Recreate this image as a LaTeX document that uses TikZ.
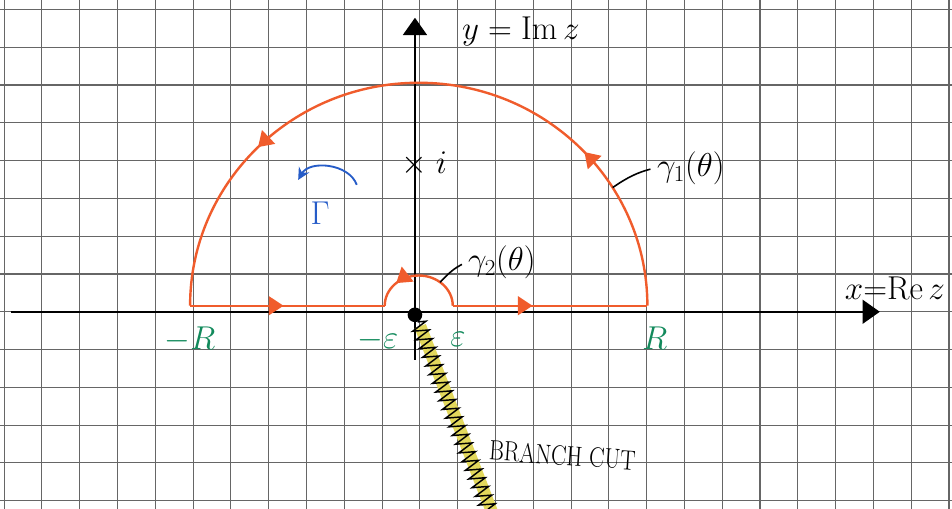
\documentclass[tikz,border=0pt]{standalone}
\usepackage{amsmath,amssymb}
\usepackage{xcolor}
\usepackage{tikz}
\usetikzlibrary{positioning,arrows.meta,decorations.markings,decorations.pathmorphing,calc}
\definecolor{contourorange}{RGB}{240,92,44}
\definecolor{labelgreen}{RGB}{18,138,92}
\definecolor{penblue}{RGB}{38,92,200}
\definecolor{cutyellow}{RGB}{226,216,92}

\begin{document}
\begin{tikzpicture}[
  font=\fontsize{22}{24}\selectfont,
  every node/.style={inner sep=1pt},
  gridline/.style={draw=black!60, line width=0.8pt},
  axis/.style={draw, line width=1.4pt, -{Triangle[length=13pt,width=18pt]}},
  contour/.style={draw=contourorange, line width=1.8pt},
  midarrow/.style={postaction={decorate}, decoration={markings,
    mark=at position #1 with {\arrow{Triangle[length=11pt,width=14pt]}}}},
  endlabel/.style={text=labelgreen, font=\fontsize{24}{26}\selectfont},
  leader/.style={draw, line width=1.2pt, shorten >=4pt}]
\clip (-10.98,-5.21) rectangle (14.21,8.25);
\fill[white] (-10.98,-5.21) rectangle (14.21,8.25);
\draw[gridline, shift={(0.13,0)}] (-12,-6) grid (15,9);

\coordinate (xstart) at (-10.7,0);
\coordinate (xend) at (12.3,0);
\coordinate (ystart) at (0,-1.27);
\coordinate (yend) at (0,7.78);
\draw[axis] (xstart) -- (xend);
\draw[axis] (ystart) -- (yend);

\coordinate (mR) at (-5.95,0.16);
\coordinate (mE) at (-0.8,0.16);
\coordinate (pE) at (1.0,0.16);
\coordinate (pR) at (6.15,0.16);
\draw[contour, midarrow=0.48] (mR) -- (mE);
\draw[contour, midarrow=0.74] (pE) arc[start angle=0, end angle=180, x radius=0.9, y radius=0.8];
\draw[contour, midarrow=0.41] (pE) -- (pR);
\draw[contour, postaction={decorate}, decoration={markings,
    mark=at position 0.24 with {\arrow{Triangle[length=11pt,width=14pt]}},
    mark=at position 0.75 with {\arrow{Triangle[length=11pt,width=14pt]}}}]
  (pR) arc[start angle=0, end angle=180, x radius=6.05, y radius=5.9];

\node[endlabel] (minusR) at (-5.95,-0.74) {$-R$};
\node[endlabel] (minuseps) at (-0.98,-0.74) {$-\varepsilon$};
\node[endlabel] (pluseps) at (1.14,-0.74) {$\varepsilon$};
\node[endlabel] (plusR) at (6.35,-0.69) {$R$};

\node (pole) at (0.24,3.92) {\fontsize{24}{26}\selectfont$\times\;i$};
\node (ylabel) at (2.8,7.41) {\fontsize{29}{31}\selectfont$y = \mathrm{Im}\,z$};
\node (xlabel) at (12.7,0.63) {\fontsize{25}{27}\selectfont$x{=}\mathrm{Re}\,z$};

\coordinate (gonept) at ($(0.1,0.16)+(32:6.05 and 5.9)$);
\coordinate (gtwopt) at ($(0.1,0.16)+(51:0.9 and 0.8)$);
\node (gammaone) at (7.3,3.81) {\fontsize{24}{26}\selectfont$\gamma_1(\theta)$};
\node (gammatwo) at (2.3,1.32) {\fontsize{24}{26}\selectfont$\gamma_2(\theta)$};
\draw[leader] (gonept) to[bend left=10] (gammaone.west);
\draw[leader] (gtwopt) to[bend left=10] (gammatwo.west);

\node[text=penblue] (bigGamma) at (-2.51,2.6) {\fontsize{32}{32}\selectfont$\Gamma$};
\coordinate (turnstart) at (-1.54,3.36);
\coordinate (turnend) at (-3.09,3.49);
\draw[penblue, line width=1.4pt, -{Stealth[length=9pt,width=9pt]}] (turnstart) to[bend right=65] (turnend);

\node[circle, fill, inner sep=0pt, minimum size=11pt] (branchpt) at (0,-0.08) {};
\coordinate (cutend) at (1.98,-5.3);
\draw[cutyellow, line width=9pt] ($(branchpt)+(0.14,-0.3)$) -- ($(cutend)+(0.06,0)$);
\draw[line width=1.1pt, decorate, decoration={zigzag, amplitude=6pt, segment length=7pt}] (branchpt) -- (cutend);
\node[rotate=-4] (cutlabel) at (3.9,-3.8) {\scalebox{0.82}[1]{\fontsize{21}{23}\selectfont BRANCH CUT}};
\end{tikzpicture}
\end{document}
